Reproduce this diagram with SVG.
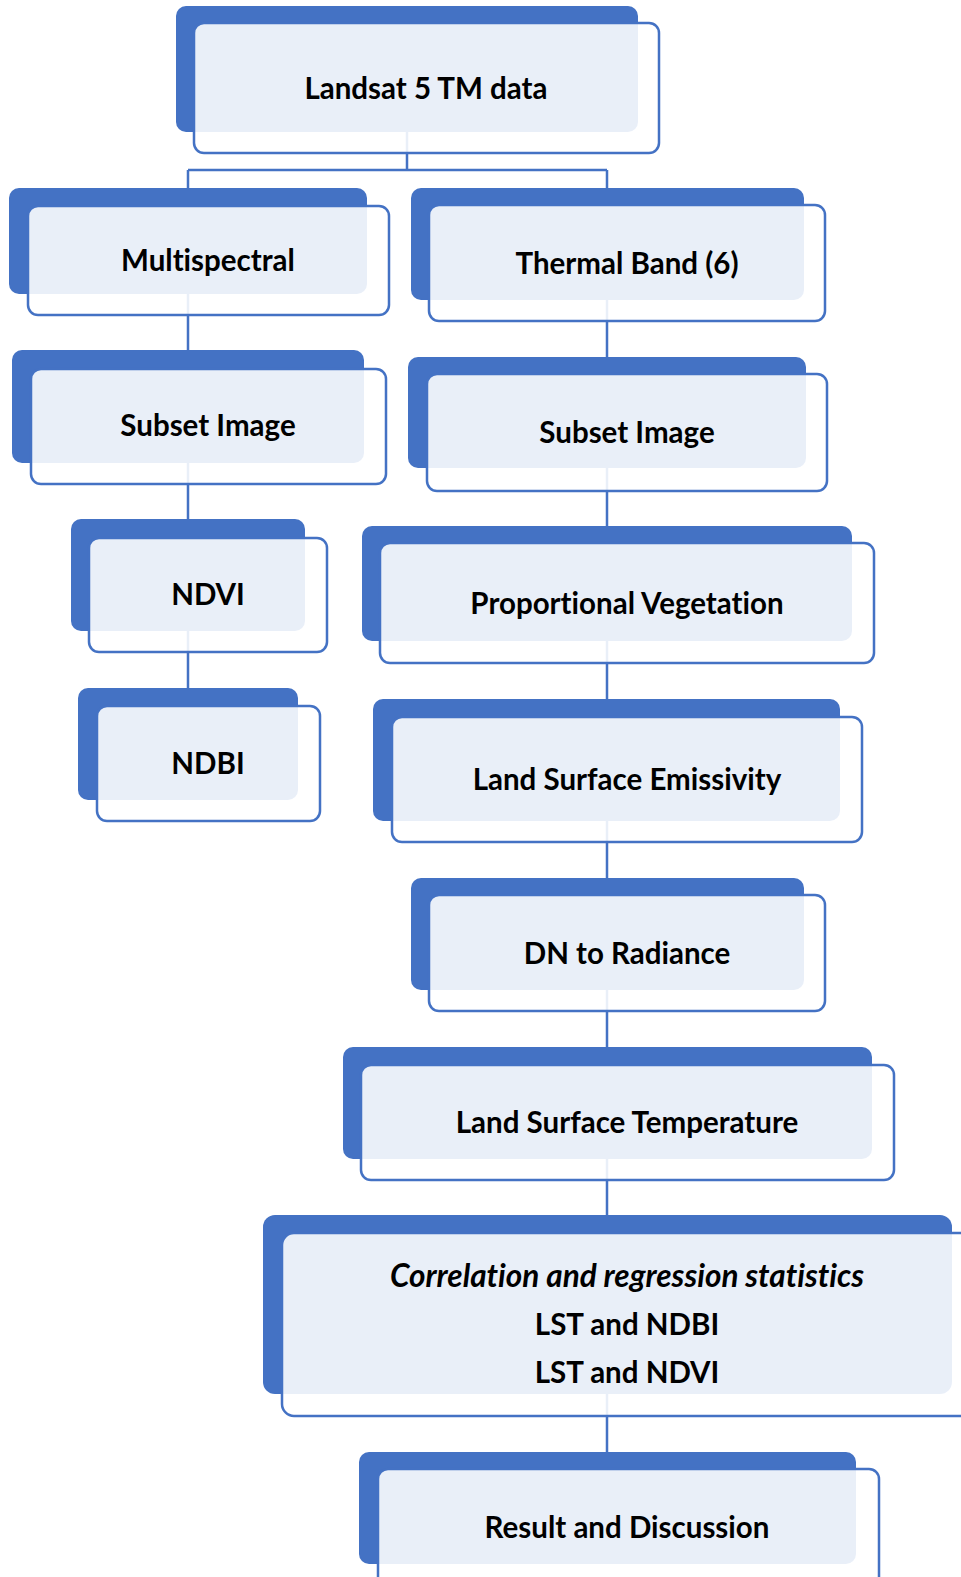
<svg xmlns="http://www.w3.org/2000/svg" width="961" height="1577" viewBox="0 0 961 1577">
<style>
.bk{fill:#4472C4}
.fr{fill:#ffffff;fill-opacity:0.885;stroke:#4472C4;stroke-width:2.5}
.t{font-family:Lato,"Open Sans",sans-serif;font-weight:bold;font-size:29.5px;fill:#000;text-anchor:middle;dominant-baseline:central;font-variant-ligatures:none;font-feature-settings:"liga" 0,"dlig" 0}
.i{font-style:italic;font-size:31.5px}
.c{stroke:#4472C4;stroke-width:2.5;fill:none}
</style>
<rect width="961" height="1577" fill="#fff"/>
<g id="connectors">
<path class="c" d="M407 132V170M188 170H607M188 170V188M607 170V188"/>
<path class="c" d="M188 294V350M188 463V519M188 631V688"/>
<path class="c" d="M607 300V357M607 468V526M607 641V699M607 821V878M607 990V1047M607 1159V1215M607 1394V1452"/>
</g>
<g id="n-landsat"><rect class="bk" x="176" y="6" width="462" height="126" rx="10"/><rect class="fr" x="194" y="23" width="465" height="130" rx="10"/><text class="t" x="426" y="87">Landsat 5 TM data</text></g>
<g id="n-multi"><rect class="bk" x="9" y="188" width="358" height="106" rx="10"/><rect class="fr" x="28" y="206" width="361" height="109" rx="10"/><text class="t" x="208" y="259">Multispectral</text></g>
<g id="n-thermal"><rect class="bk" x="411" y="188" width="393" height="112" rx="10"/><rect class="fr" x="429" y="205" width="396" height="116" rx="10"/><text class="t" x="627" y="262">Thermal Band (6)</text></g>
<g id="n-subset-l"><rect class="bk" x="12" y="350" width="352" height="113" rx="10"/><rect class="fr" x="31" y="369" width="355" height="115" rx="10"/><text class="t" x="208" y="424">Subset Image</text></g>
<g id="n-subset-r"><rect class="bk" x="408" y="357" width="398" height="111" rx="10"/><rect class="fr" x="427" y="374" width="400" height="117" rx="10"/><text class="t" x="627" y="431">Subset Image</text></g>
<g id="n-ndvi"><rect class="bk" x="71" y="519" width="234" height="112" rx="10"/><rect class="fr" x="89" y="538" width="238" height="114" rx="10"/><text class="t" x="208" y="593">NDVI</text></g>
<g id="n-ndbi"><rect class="bk" x="78" y="688" width="220" height="112" rx="10"/><rect class="fr" x="97" y="706" width="223" height="115" rx="10"/><text class="t" x="208" y="762">NDBI</text></g>
<g id="n-pv"><rect class="bk" x="362" y="526" width="490" height="115" rx="10"/><rect class="fr" x="380" y="543" width="494" height="120" rx="10"/><text class="t" x="627" y="602">Proportional Vegetation</text></g>
<g id="n-lse"><rect class="bk" x="373" y="699" width="467" height="122" rx="10"/><rect class="fr" x="392" y="717" width="470" height="125" rx="10"/><text class="t" x="627" y="778">Land Surface Emissivity</text></g>
<g id="n-dn"><rect class="bk" x="411" y="878" width="393" height="112" rx="10"/><rect class="fr" x="429" y="895" width="396" height="116" rx="10"/><text class="t" x="627" y="952">DN to Radiance</text></g>
<g id="n-lst"><rect class="bk" x="343" y="1047" width="529" height="112" rx="10"/><rect class="fr" x="361" y="1065" width="533" height="115" rx="10"/><text class="t" x="627" y="1121">Land Surface Temperature</text></g>
<g id="n-corr"><rect class="bk" x="263" y="1215" width="689" height="179" rx="12"/><rect class="fr" x="282" y="1233" width="692" height="183" rx="12"/><text class="t i" x="627" y="1275">Correlation and regression statistics</text><text class="t" x="627" y="1323">LST and NDBI</text><text class="t" x="627" y="1371">LST and NDVI</text></g>
<g id="n-result"><rect class="bk" x="359" y="1452" width="497" height="112" rx="10"/><rect class="fr" x="378" y="1469" width="501" height="130" rx="10"/><text class="t" x="627" y="1526">Result and Discussion</text></g>
</svg>
